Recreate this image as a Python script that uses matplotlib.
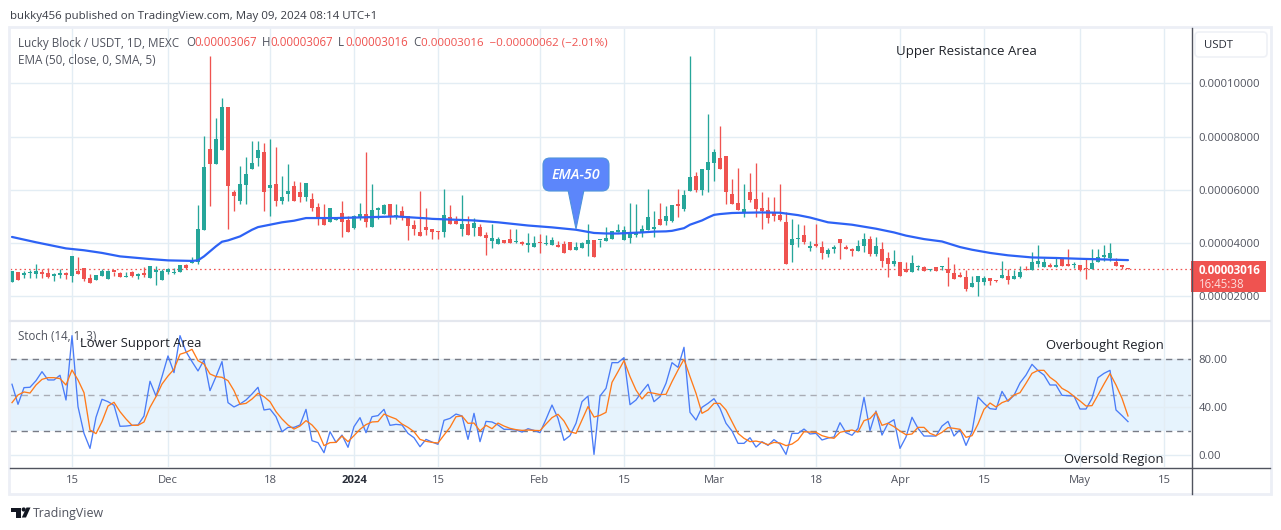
import numpy as np
import pandas as pd
import matplotlib
matplotlib.use("Agg")
import matplotlib.pyplot as plt
from matplotlib.patches import FancyBboxPatch, Polygon, Rectangle, Circle

# prices are in units of 0.00001 USDT
opens = [2.53,2.93,2.79,2.86,2.85,2.93,2.89,2.78,2.81,2.89,2.78,2.96,3.08,2.69,2.60,2.78,2.66,2.93,2.88,2.71,
         2.93,2.76,2.85,2.70,2.93,2.63,2.93,2.86,2.90,3.19,3.24,3.28,4.50,7.54,6.98,7.50,9.11,5.90,5.59,6.19,
         6.79,7.20,7.43,6.08,6.23,5.59,5.85,6.15,5.93,5.74,5.66,5.36,4.99,4.80,4.88,5.14,4.88,4.58,4.99,5.10,
         4.61,5.25,5.10,5.48,4.99,5.21,5.03,4.69,4.43,4.61,4.54,4.44,4.43,4.99,4.84,4.54,4.73,4.58,4.61,4.31,
         4.09,3.98,4.13,4.16,4.03,4.05,3.94,3.86,4.01,3.95,3.94,3.94,3.98,4.05,3.75,3.83,3.98,4.13,4.10,4.09,
         4.16,4.43,4.13,4.20,4.31,4.38,4.50,4.54,4.91,4.84,4.84,5.48,5.29,5.96,6.53,6.00,6.75,7.01,7.20,7.28,
         5.85,5.51,5.18,5.93,5.66,5.33,5.25,5.18,5.06,4.80,3.94,4.14,4.31,3.83,3.98,3.86,3.60,3.78,4.16,3.83,
         3.79,3.69,3.90,4.16,3.60,3.79,3.45,3.23,3.30,3.04,2.93,3.09,3.11,2.98,3.11,3.09,3.04,2.89,2.78,2.74,
         2.36,2.55,2.55,2.70,2.59,2.70,2.78,2.66,2.74,3.01,3.00,3.23,3.11,3.15,3.11,3.41,3.19,3.16,3.19,3.08,
         3.04,3.30,3.49,3.45,3.30,3.15,3.067]
highs = [2.94,2.93,2.94,3.00,3.23,3.03,3.06,2.88,3.04,2.91,3.53,3.48,3.08,2.84,2.80,3.03,2.98,2.93,2.90,2.91,
         2.95,2.86,3.10,3.15,3.13,3.03,3.05,3.05,3.19,3.23,3.49,5.44,8.03,11.03,8.69,9.44,9.11,5.98,6.90,7.24,
         7.84,7.84,7.75,7.91,7.61,6.53,6.98,6.34,6.30,6.26,5.88,5.51,5.48,5.33,4.99,5.59,5.03,5.06,5.51,7.43,
         6.23,5.36,5.48,5.48,5.48,5.40,5.03,4.88,5.96,5.33,4.54,4.44,6.04,5.44,5.03,5.81,5.03,4.95,4.73,4.43,
         4.73,4.24,4.13,4.54,4.54,4.09,4.39,4.28,4.35,4.31,4.24,4.09,4.09,4.05,4.05,4.05,4.73,4.13,4.13,4.61,
         4.46,4.73,4.65,5.51,5.48,4.69,6.04,5.21,5.51,5.40,5.44,6.04,6.00,11.03,6.68,6.79,8.85,7.54,8.40,7.28,
         6.41,6.83,6.23,6.64,7.01,5.93,5.74,5.74,6.23,5.18,4.91,4.73,4.69,4.09,4.73,4.09,3.83,3.94,4.16,3.94,
         3.81,4.13,4.38,4.28,4.24,4.05,3.68,3.75,3.30,3.30,3.56,3.19,3.15,3.04,3.11,3.15,3.49,3.23,2.93,3.00,
         2.78,2.78,2.78,2.70,2.63,3.34,3.04,3.00,3.15,3.15,3.68,3.94,3.45,3.26,3.45,3.41,3.79,3.30,3.19,3.45,
         3.79,3.79,3.94,4.01,3.45,3.19,3.067]
lows = [2.53,2.63,2.68,2.70,2.69,2.68,2.70,2.56,2.68,2.65,2.53,2.84,2.56,2.51,2.60,2.75,2.66,2.75,2.71,2.71,
        2.73,2.66,2.73,2.70,2.44,2.63,2.85,2.85,2.90,3.04,3.24,3.23,4.50,5.38,6.98,7.50,4.54,5.21,5.48,5.48,
        6.79,6.90,5.21,5.03,5.38,5.48,5.59,5.59,5.55,5.59,5.21,4.69,4.69,4.80,4.88,4.24,4.43,4.54,4.88,4.61,
        4.61,4.91,5.10,4.73,4.91,4.88,4.13,4.31,4.28,4.31,4.16,4.16,4.24,4.73,4.73,4.28,4.31,4.28,4.28,3.56,
        3.83,3.98,4.01,4.01,4.01,3.94,3.68,3.86,3.64,3.94,3.94,3.86,3.64,3.75,3.75,3.83,3.53,3.49,3.86,4.09,
        4.16,4.43,4.13,4.01,4.24,4.24,4.50,4.24,4.69,4.69,4.80,4.99,5.21,5.96,5.93,5.81,5.93,6.34,6.79,5.48,
        5.48,5.25,4.99,5.55,4.99,4.54,4.76,4.84,4.84,3.23,3.30,3.86,3.98,3.71,3.86,3.41,3.49,3.63,3.41,3.79,
        3.53,3.69,3.68,3.53,3.53,3.11,2.74,3.15,2.78,2.93,2.93,3.00,2.96,2.96,2.96,3.00,2.40,2.66,2.74,2.21,
        2.36,2.03,2.44,2.44,2.55,2.70,2.48,2.66,2.70,2.98,3.00,3.11,3.11,3.11,3.11,3.15,3.15,3.08,2.96,2.66,
        3.04,3.30,3.34,3.34,3.15,3.04,3.016]
closes = [2.94,2.63,2.89,2.89,2.95,2.85,2.74,2.80,2.84,2.79,3.53,2.85,2.65,2.51,2.80,2.95,2.95,2.91,2.71,2.73,
          2.75,2.79,2.81,3.15,2.96,2.96,3.03,2.93,3.19,3.08,3.30,4.54,6.86,6.98,7.91,9.11,6.13,5.78,6.23,6.60,
          7.01,7.50,5.93,6.19,5.59,5.74,5.96,5.59,5.74,6.26,5.33,4.95,4.69,5.33,4.99,4.80,4.43,5.03,5.10,4.80,
          5.25,5.29,5.44,4.99,5.06,4.99,4.65,4.54,4.28,4.50,4.43,4.41,5.06,4.73,4.73,4.73,4.31,4.76,4.28,4.20,
          4.20,4.16,4.01,4.01,4.05,3.98,4.01,4.01,3.99,3.98,4.13,3.86,3.64,3.75,3.86,4.01,4.13,3.49,4.13,4.20,
          4.46,4.46,4.50,4.35,4.43,4.54,4.99,4.61,4.69,5.03,5.44,5.40,5.81,6.49,6.00,6.79,7.05,7.43,6.79,5.93,
          5.48,5.25,5.29,5.63,5.29,5.21,4.95,5.03,4.88,3.23,4.16,4.16,4.05,3.90,3.90,3.64,3.75,3.80,4.01,3.79,
          3.69,3.90,4.16,3.60,3.90,3.34,3.23,3.34,2.78,2.93,3.26,3.11,2.96,3.00,2.96,3.11,2.89,2.66,2.74,2.29,
          2.51,2.78,2.70,2.59,2.56,2.81,2.63,2.78,2.93,2.98,3.30,3.34,3.30,3.11,3.15,3.15,3.15,3.19,3.00,3.01,
          3.26,3.49,3.53,3.64,3.15,3.11,3.016]

# EMA, day number since the first candle
ema_days = [0,4,9,12,15,18,20,23,26,28,30,31,32,33,34,35,36,38,40,41,43,45,47,49,54,64,69,70,77,81,86,90,94,97,99,
            101,105,107,109,110,112,113,115,116,117,118,120,122,125,128,131,133,136,140,144,147,149,152,155,158,160,
            163,166,170,174,178,186]
ema_vals = [4.23,4.03,3.80,3.73,3.63,3.50,3.46,3.40,3.35,3.34,3.33,3.35,3.50,3.69,3.88,4.05,4.10,4.25,4.50,4.60,
            4.69,4.78,4.84,4.94,4.94,5.00,4.93,4.91,4.85,4.78,4.66,4.59,4.50,4.38,4.36,4.36,4.40,4.43,4.44,4.46,
            4.56,4.69,4.85,4.96,5.06,5.09,5.13,5.14,5.15,5.14,5.05,4.96,4.78,4.69,4.54,4.40,4.28,4.15,4.06,3.85,
            3.75,3.63,3.54,3.46,3.44,3.41,3.36]

stoch_k = [59.2,42.5,56.4,56.7,62.2,69.7,62.8,62.8,66.7,46.1,99.7,40.6,18.3,5.8,31.7,46.7,44.7,41.7,24.2,24.4,
           25.0,25.3,32.8,61.7,49.4,65.6,82.8,68.9,99.7,86.4,78.1,70.3,79.4,53.9,65.6,78.1,43.9,40.3,42.8,46.1,
           51.1,56.7,37.8,38.6,32.2,19.7,23.3,23.3,25.3,38.3,12.2,10.6,2.2,19.7,10.8,16.9,6.7,23.9,31.4,18.9,
           32.2,33.1,38.3,25.0,25.8,25.3,18.3,14.7,7.2,13.3,11.1,9.2,29.2,30.8,34.4,32.8,13.3,35.0,11.4,28.3,
           27.8,25.3,21.7,21.7,21.1,19.4,22.2,20.8,18.9,30.0,41.9,30.8,12.5,16.4,26.7,44.7,49.4,0.8,49.4,55.8,
           77.2,77.2,81.4,42.2,46.1,53.1,59.2,44.7,48.9,60.0,77.2,73.3,90.0,35.8,29.4,40.0,43.3,47.2,39.2,26.7,
           20.3,10.0,10.0,14.7,6.9,11.4,8.3,13.1,9.4,0.8,18.3,18.3,21.9,17.8,18.3,12.8,14.4,15.3,27.2,18.9,
           16.7,22.5,48.3,20.6,36.9,16.9,26.7,29.7,5.8,15.3,31.7,22.5,16.1,16.1,16.1,24.4,28.3,16.1,21.4,8.3,
           19.7,48.6,43.3,38.9,38.3,53.3,45.0,50.0,60.3,66.9,75.8,70.6,66.9,58.6,58.6,50.0,49.7,49.4,38.6,38.6,
           47.5,64.7,68.3,70.8,37.8,33.1,28.1]
stoch_d = [43.9,50.3,52.8,51.9,58.6,63.3,64.7,64.7,63.9,58.6,71.1,62.8,52.2,21.1,18.1,28.1,41.1,44.2,36.4,30.3,
           25.0,25.0,27.8,40.0,48.9,59.4,66.1,71.7,84.2,85.8,88.3,78.9,76.1,67.8,65.6,65.0,62.2,53.9,42.5,43.3,
           46.9,51.7,48.9,44.7,36.4,30.3,25.3,21.9,24.4,28.9,25.3,19.7,8.1,10.6,10.8,16.1,11.4,16.4,21.7,25.6,
           27.8,28.1,34.4,32.2,30.3,26.1,23.3,19.7,13.3,11.7,10.8,10.3,16.9,23.3,32.2,32.8,26.7,26.9,20.3,25.0,
           22.2,26.9,24.4,22.5,21.4,20.8,21.1,20.8,20.6,26.1,31.4,34.2,28.6,19.7,18.3,29.4,40.6,31.9,33.3,35.8,
           60.8,69.7,78.9,65.6,54.4,46.9,52.5,51.7,50.6,50.8,61.4,71.1,80.0,65.6,51.7,35.0,37.8,43.3,43.3,37.8,
           28.1,18.3,14.2,11.4,11.9,10.8,8.9,10.8,10.3,8.1,9.4,12.8,19.7,19.4,19.2,16.4,15.0,14.2,19.2,20.3,
           21.1,19.4,28.9,30.6,36.1,25.0,26.7,23.9,20.3,17.2,17.8,23.3,23.3,18.3,16.4,19.2,23.1,22.5,21.7,15.0,
           16.4,26.1,38.3,43.6,40.3,43.9,45.8,50.3,52.2,60.0,68.3,70.8,70.8,65.0,61.4,55.8,53.1,49.2,45.3,41.1,
           41.4,50.3,59.4,68.1,58.6,47.5,32.8]

last_price = 3.016
start_date = "2023-11-05"

price_ticks = [2, 4, 6, 8, 10]
price_labels = ["0.00002000", "0.00004000", "0.00006000", "0.00008000", "0.00010000"]
stoch_ticks = [0, 40, 80]
stoch_labels = ["0.00", "40.00", "80.00"]
date_ticks = ["2023-11-15", "2023-12-01", "2023-12-18", "2024-01-01", "2024-01-15", "2024-02-01", "2024-02-15",
              "2024-03-01", "2024-03-18", "2024-04-01", "2024-04-15", "2024-05-01", "2024-05-15"]
date_labels = ["15", "Dec", "18", "2024", "15", "Feb", "15", "Mar", "18", "Apr", "15", "May", "15"]

GREEN = "#26a69a"
RED = "#ef5350"
GRID = "#e3edf4"
TXT = "#50535e"
FONT = "Open Sans"

plt.rcParams["font.family"] = [FONT, "DejaVu Sans"]

W, H = 1281, 530
fig = plt.figure(figsize=(W / 100, H / 100), dpi=100, facecolor="white")


def add_pane(left, top, right, bottom):
    return fig.add_axes([left / W, 1 - bottom / H, (right - left) / W, (bottom - top) / H])


ax = add_pane(10, 28, 1191, 320)
ax2 = add_pane(10, 321, 1191, 467)

days = np.arange(len(opens))
tick_days = [(pd.Timestamp(d) - pd.Timestamp(start_date)).days for d in date_ticks]

for a in (ax, ax2):
    a.set_xlim(-1 / 3, 196.5)
    a.set_xticks(tick_days)
    a.grid(True, color=GRID, linewidth=1.0)
    a.set_axisbelow(True)
    a.yaxis.tick_right()
    a.tick_params(length=0, labelcolor=TXT, labelsize=8.1)
    for s in a.spines.values():
        s.set_visible(False)

# candles
o = np.array(opens)
c = np.array(closes)
colors = [GREEN if c[i] >= o[i] else RED for i in days]
ax.vlines(days, lows, highs, colors=colors, linewidth=0.95, zorder=2)
ax.bar(days, np.maximum(np.abs(c - o), 0.06), bottom=np.minimum(o, c), width=0.8, color=colors, zorder=3)
ax.plot(ema_days, ema_vals, color="#2d62f5", linewidth=1.6, zorder=4, solid_capstyle="round")
ax.axhline(last_price, color=RED, linewidth=0.9, linestyle=(0, (1.3, 2.4)), zorder=1)
ax.set_ylim(1.11, 12.08)
ax.set_yticks(price_ticks)
ax.set_yticklabels(price_labels)
ax.tick_params(axis="x", labelbottom=False)
ax.tick_params(axis="y", pad=5.5)

# stochastic pane
ax2.axhspan(20, 80, color="#2196f3", alpha=0.11, linewidth=0, zorder=0)
for lvl, col in ((80, "#787b86"), (50, "#a9acb5"), (20, "#787b86")):
    ax2.axhline(lvl, color=col, linewidth=1.0, linestyle=(0, (4.5, 3.5)), zorder=1)
ax2.plot(days, stoch_k, color="#4a7cf7", linewidth=0.95, zorder=3)
ax2.plot(days, stoch_d, color="#ff7a1a", linewidth=0.95, zorder=4)
ax2.set_ylim(-9.7, 111.9)
ax2.set_yticks(stoch_ticks)
ax2.set_yticklabels(stoch_labels)
ax2.set_xticklabels(date_labels)
ax2.tick_params(axis="y", pad=5.5)
ax2.tick_params(axis="x", pad=6)
for lab in ax2.get_xticklabels():
    if lab.get_text() == "2024":
        lab.set_fontweight("bold")
        lab.set_color("#2a2e39")

# overlay in screen pixels for the frame, callout, notes and header
ov = fig.add_axes([0, 0, 1, 1], zorder=10)
ov.set_xlim(0, W)
ov.set_ylim(H, 0)
ov.axis("off")

FRAME = "#eceff6"
ov.add_patch(Rectangle((9, 27), 1262, 467, fill=False, edgecolor=FRAME, linewidth=2.0))
ov.plot([10, 1270], [320.5, 320.5], color="#e4e7ee", linewidth=1.6)
ov.plot([10, 1270], [467.5, 467.5], color="#50535e", linewidth=1.0)
ov.plot([1191.5, 1191.5], [28, 494], color="#50535e", linewidth=1.0)

ov.add_patch(FancyBboxPatch((1195, 32), 72, 25, boxstyle="round,pad=0,rounding_size=4",
                            facecolor="white", edgecolor="#eff1f6", linewidth=1.2))
ov.text(1204, 45, "USDT", fontsize=8.2, color="#2a2e39", va="center")

ov.text(10, 16, "bukky456 published on TradingView.com, May 09, 2024 08:14 UTC+1", fontsize=8.25, color="#3a3d46", va="center")
ov.text(18, 43, "Lucky Block / USDT, 1D, MEXC", fontsize=8.35, color=TXT, va="center")
ov.text(186, 43, "O", fontsize=8.3, color=TXT, va="center")
ov.text(194, 43, "0.00003067", fontsize=8.3, color=RED, va="center")
ov.text(262, 43, "H", fontsize=8.3, color=TXT, va="center")
ov.text(270, 43, "0.00003067", fontsize=8.3, color=RED, va="center")
ov.text(338, 43, "L", fontsize=8.3, color=TXT, va="center")
ov.text(345, 43, "0.00003016", fontsize=8.3, color=RED, va="center")
ov.text(413, 43, "C", fontsize=8.3, color=TXT, va="center")
ov.text(421, 43, "0.00003016  \u22120.00000062 (\u22122.01%)", fontsize=8.25, color=RED, va="center")
ov.text(18, 60, "EMA (50, close, 0, SMA, 5)", fontsize=8.5, color=TXT, va="center")
ov.text(18, 337, "Stoch (14, 1, 3)", fontsize=8.3, color=TXT, va="center")

ov.text(896, 52, "Upper Resistance Area", fontsize=9.55, color="#1f2229", va="center")
ov.text(80, 343, "Lower Support Area", fontsize=9.35, color="#1f2229", va="center")
ov.text(1046, 345, "Overbought Region", fontsize=9.4, color="#1f2229", va="center")
ov.text(1064, 460, "Oversold Region", fontsize=9.4, color="#1f2229", va="center")

# callout
ov.add_patch(Polygon([(568, 190), (584, 190), (576, 229)], closed=True, facecolor="#5c86fb", edgecolor="#4f93dc", linewidth=0.8))
ov.add_patch(FancyBboxPatch((543, 158), 66, 33, boxstyle="round,pad=0,rounding_size=7",
                            facecolor="#5c86fb", edgecolor="#4f93dc", linewidth=0.8))
ov.add_patch(Rectangle((569, 187), 14, 6, facecolor="#5c86fb", edgecolor="none"))
ov.text(576, 175, "EMA-50", fontsize=10.4, color="white", style="italic", fontweight="semibold", ha="center", va="center")

# last price tag
ov.add_patch(Rectangle((1191, 261), 75, 31, facecolor="#ef5350", edgecolor="none"))
ov.text(1199, 270, "0.00003016", fontsize=8.3, color="white", fontweight="bold", va="center")
ov.text(1199, 284, "16:45:38", fontsize=8.3, color="#fcdcdb", va="center")

# footer logo and name
ov.add_patch(Polygon([(10.5, 507.5), (21, 507.5), (21, 517.5), (15.5, 517.5), (15.5, 511.5), (10.5, 511.5)], closed=True, facecolor="#131722", edgecolor="none"))
ov.add_patch(Circle((23.7, 509.5), 2.1, facecolor="#131722", edgecolor="none"))
ov.add_patch(Polygon([(26.5, 507.5), (30.5, 507.5), (26, 517.5), (21.8, 517.5)], closed=True, facecolor="#131722", edgecolor="none"))
ov.text(33, 513.5, "TradingView", fontsize=8.9, color=TXT, va="center")

fig.savefig("out.png", dpi=100)
